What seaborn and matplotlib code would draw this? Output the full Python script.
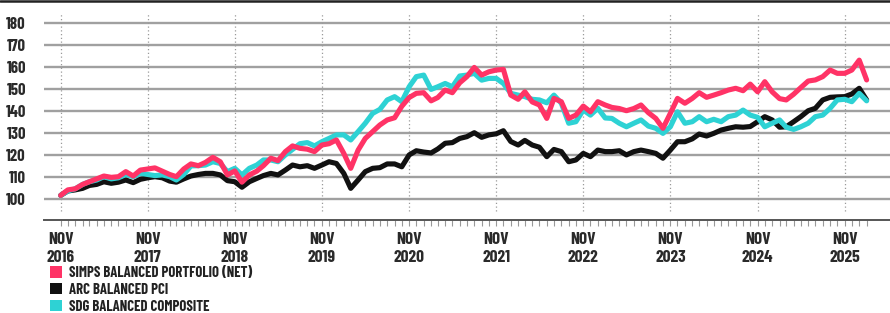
import numpy as np
import pandas as pd
import matplotlib
matplotlib.use('Agg')
import matplotlib.pyplot as plt
from matplotlib.lines import Line2D
from matplotlib.patches import Patch
import seaborn as sns

#%%
#  Data (monthly index values, Nov 2016 = ~100)

months = pd.date_range('2016-11-01', periods=112, freq='MS')

simps = [101.5, 104, 104.5, 106.5, 107.7, 109, 110.3, 109.7, 110, 112.3,
         110.3, 113, 113.5, 114, 112.5, 111, 110, 113.5, 115.8, 115,
         116.5, 118.8, 116.8, 110.8, 112.6, 107.5, 110.8, 112.5, 115, 118.4,
         117.3, 121.4, 124, 122.9, 122.5, 121.4, 124.4, 125, 126.7, 120.6,
         113.8, 122.1, 127.4, 130.5, 133.5, 135.8, 136.8, 142, 146, 147.9,
         148.2, 144.5, 146, 149.4, 148.2, 152.7, 155.5, 159.7, 156.2, 157.7,
         158.5, 158.8, 147.1, 145.2, 148.6, 144, 142.6, 136.5, 145.6, 144.1,
         136.5, 138, 142.1, 139.5, 144.1, 142.6, 141.5, 141, 140, 141,
         142.6, 139.1, 136.5, 132, 138.8, 145.6, 143.4, 145.6, 148.2, 146.1,
         147.1, 148.2, 149.4, 150.2, 149.1, 152.1, 148.6, 153.2, 148.6, 145.5,
         144.9, 147.5, 150.5, 153.5, 154, 155.5, 158.5, 157, 157, 158.5,
         163, 154]

arc = [101.5, 103.5, 104, 104.7, 106, 106.5, 107.7, 107, 107.5, 108.5,
       107.3, 108.8, 109.5, 110, 109.5, 108, 107.5, 109, 110.3, 111,
       111.5, 111.5, 110.8, 108.2, 107.7, 105.2, 107.7, 109.2, 110.5, 111.5,
       110.8, 113, 115.3, 114.5, 115, 113.8, 115.3, 116.8, 116, 111.5,
       104.7, 108.5, 112.3, 113.8, 114.1, 115.8, 115.8, 114.5, 119.9, 121.8,
       121.2, 120.8, 122.6, 125.2, 125.5, 127.4, 128.2, 130, 127.9, 129,
       129.5, 130.9, 126, 124.4, 126.5, 124.4, 123.4, 119.1, 122.4, 121.4,
       116.8, 117.6, 120.6, 119.1, 122.1, 121.4, 121.4, 121.8, 119.9, 121.4,
       122.1, 121.4, 120.6, 118.4, 122.1, 125.9, 125.9, 127.2, 129.4, 128.5,
       129.7, 131.2, 132, 132.7, 132.5, 132.8, 135, 137.3, 135.8, 132.5,
       132.7, 135, 137.3, 140, 141.1, 144.9, 146.1, 146.3, 146.4, 147.6,
       150.2, 144.9]

sdg = [101.5, 103.5, 104.5, 106.5, 107.7, 108.5, 110, 109, 109.5, 111,
       110, 111.5, 111, 110.5, 110.8, 110, 108.5, 111, 114.9, 115,
       115.3, 116.8, 116, 112.3, 113.8, 110.8, 113.8, 115.3, 117.6, 117.6,
       116.8, 119.9, 122.4, 125, 125.5, 124, 125.9, 127.4, 129, 129,
       126.7, 130.5, 134.3, 138.8, 140.6, 144.9, 146.4, 144.1, 150.9, 155.5,
       156.2, 149.7, 150.9, 152.4, 150.9, 155.8, 156.2, 157, 153.9, 154.7,
       154.7, 152.4, 147.9, 147.1, 146.4, 145.2, 144.9, 143.6, 147.1, 143.4,
       134.3, 135, 140.3, 138, 141.1, 136.7, 136.5, 134.3, 132.7, 134.3,
       135.8, 133, 132, 129.7, 132.7, 139.5, 134.3, 135, 137.3, 135,
       136.1, 135, 137.3, 138, 140.3, 138, 137, 132.7, 134.3, 135.8,
       132.5, 131.5, 132.7, 134.3, 137.3, 138, 141.1, 144.9, 145.2, 144.1,
       147.9, 144.5]

names = ['SIMPS BALANCED PORTFOLIO (NET)', 'ARC BALANCED PCI', 'SDG BALANCED COMPOSITE']
colors = ['#FF3366', '#111111', '#2ED2D4']
y_ticks = [100, 110, 120, 130, 140, 150, 160, 170, 180]
nov_ticks = months[::12]
x_labels = [f'NOV\n{d.year}' for d in nov_ticks]

df = pd.DataFrame({
    'month': np.tile(months, 3),
    'value': simps + arc + sdg,
    'series': np.repeat(names, len(months)),
})

#%%
#  Plot

sns.set_style('white')
plt.rcParams['font.family'] = ['Barlow Condensed', 'DejaVu Sans']

W, H = 890, 313
fig = plt.figure(figsize=(W / 100, H / 100), dpi=100)
ax = fig.add_axes([44 / W, 1 - 220 / H, 1 - 44 / W, 219 / H])

# horizontal grid
for v in y_ticks:
    ax.axhline(v, color='#a0a0a0', lw=1.7, zorder=1)
# dotted year lines
ax.vlines(nov_ticks, 94.4, 184.4, color='#9a9a9a', lw=0.9, linestyles=(0, (1, 2)), zorder=1)

# draw black first, then teal, pink on top
sns.lineplot(data=df, x='month', y='value', hue='series',
             hue_order=[names[1], names[2], names[0]],
             palette=dict(zip(names, colors)), linewidth=3.7,
             legend=False, ax=ax, zorder=3)

ax.set_ylim(90.3, 189.9)
ax.set_xlim(pd.Timestamp('2016-08-23'), pd.Timestamp('2026-05-10'))
ax.set_xlabel('')
ax.set_ylabel('')

for s in ['top', 'right', 'left']:
    ax.spines[s].set_visible(False)
ax.spines['bottom'].set_color('#555555')
ax.spines['bottom'].set_linewidth(1.4)

ax.set_yticks(y_ticks)
ax.set_yticklabels([str(v) for v in y_ticks], fontsize=12, fontweight='bold', color='#2a2a2a')
ax.tick_params(axis='y', length=0, pad=13)

ax.set_xticks(nov_ticks)
ax.set_xticklabels(x_labels, fontsize=12.5, fontweight='bold', color='#2a2a2a', linespacing=1.22)
ax.set_xticks(months, minor=True)
ax.tick_params(axis='x', which='both', direction='out', length=4, width=0.8,
               color='#999999', pad=5, bottom=True)

# top rule
fig.add_artist(Line2D([0, 1], [1 - 1 / H, 1 - 1 / H], transform=fig.transFigure,
                      color='#222222', lw=1.8))

handles = [Patch(facecolor=c, edgecolor='none', label=n) for n, c in zip(names, colors)]
fig.legend(handles=handles, loc='upper left', bbox_to_anchor=(50 / W, 1 - 266 / H),
           frameon=False, borderpad=0, borderaxespad=0, handlelength=0.8, handleheight=0.8,
           handletextpad=0.5, labelspacing=0.2,
           prop={'family': 'Barlow Condensed', 'weight': 'bold', 'size': 10.6}, labelcolor='#222222')

fig.savefig('out.png', dpi=100)
